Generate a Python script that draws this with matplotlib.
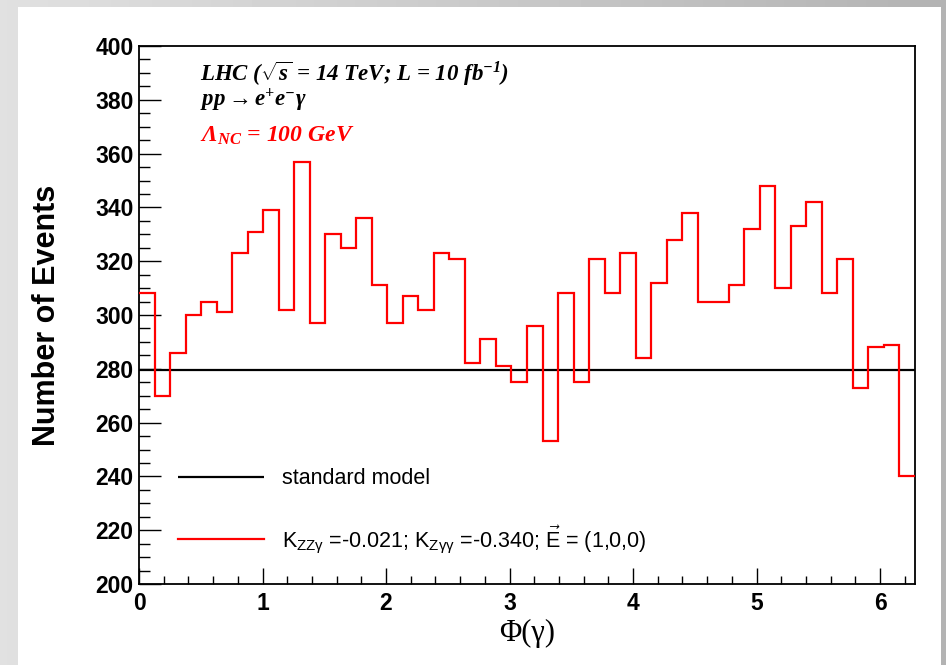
import numpy as np
import matplotlib
matplotlib.use('Agg')
import matplotlib.pyplot as plt
import matplotlib.ticker as ticker
from matplotlib.patches import Rectangle

plt.rcParams.update({
    'font.family': ['Liberation Sans', 'DejaVu Sans'],
    'mathtext.fontset': 'custom',
    'mathtext.rm': 'Liberation Serif:bold:italic',
    'mathtext.it': 'Liberation Serif:bold:italic',
    'mathtext.bf': 'Liberation Serif:bold:italic',
    'mathtext.sf': 'Liberation Sans',
})

# 50 bins over [0, 2pi]
N_BINS = 50
PHI_MAX = 2 * np.pi
events_nc = [308, 270, 286, 300, 305, 301, 323, 331, 339, 302,
             357, 297, 330, 325, 336, 311, 297, 307, 302, 323,
             321, 282, 291, 281, 275, 296, 253, 308, 275, 321,
             308, 323, 284, 312, 328, 338, 305, 305, 311, 332,
             348, 310, 333, 342, 308, 321, 273, 288, 289, 240]
sm_level = 279.4

label_sm = 'standard model'
label_nc = (r'K$_{\mathsf{ZZ\gamma}}$ =-0.021; K$_{\mathsf{Z\gamma\gamma}}$ =-0.340; '
            r'$\vec{\mathsf{E}}$ = (1,0,0)')

W, H = 946, 665
fig = plt.figure(figsize=(W / 100, H / 100), dpi=100)

# grey screenshot border with a white pad
bg = fig.add_axes([0, 0, 1, 1], zorder=-10)
grad = np.linspace(0.88, 0.70, 256)[None, :]
bg.imshow(grad, extent=[0, 1, 0, 1], aspect='auto', cmap='gray', vmin=0, vmax=1)
bg.add_patch(Rectangle((18 / W, 0), (941 - 18) / W, (H - 7) / H,
                       transform=bg.transAxes, facecolor='white', edgecolor='none'))
bg.set_xlim(0, 1)
bg.set_ylim(0, 1)
bg.axis('off')

L, R, T, B = 139, 915, 46, 584
ax = fig.add_axes([L / W, 1 - B / H, (R - L) / W, (B - T) / H])
ax.set_facecolor('white')

edges = np.linspace(0, PHI_MAX, N_BINS + 1)
ax.hlines(sm_level, 0, PHI_MAX, color='black', lw=1.6, label=label_sm, zorder=2)
ax.stairs(events_nc, edges, color='#ff0000', lw=1.6, baseline=None, label=label_nc, zorder=3)

ax.set_xlim(0, PHI_MAX)
ax.set_ylim(200, 400)

ax.xaxis.set_major_locator(ticker.MultipleLocator(1))
ax.xaxis.set_minor_locator(ticker.MultipleLocator(0.2))
ax.yaxis.set_major_locator(ticker.MultipleLocator(20))
ax.yaxis.set_minor_locator(ticker.MultipleLocator(5))
ax.tick_params(axis='both', which='both', direction='in', top=False, right=False,
               width=1.0, color='black')
ax.tick_params(axis='x', which='major', length=11.5, pad=6)
ax.tick_params(axis='x', which='minor', length=5.8)
ax.tick_params(axis='y', which='major', length=16, pad=4)
ax.tick_params(axis='y', which='minor', length=8)
for lab in ax.get_xticklabels() + ax.get_yticklabels():
    lab.set_fontsize(16.5)
    lab.set_fontweight('bold')
for sp in ax.spines.values():
    sp.set_linewidth(1.3)
    sp.set_color('black')

ax.set_ylabel('Number of Events', fontsize=22, fontweight='bold')
ax.yaxis.set_label_coords((62 - L) / (R - L), 0.5)
ax.set_xlabel('Φ(γ)', fontsize=22, family=['Liberation Serif', 'DejaVu Serif'])
ax.xaxis.set_label_coords(0.5, (B - 619) / (B - T))

serif = ['Liberation Serif', 'DejaVu Serif']
txt_kw = dict(transform=ax.transAxes, ha='left', va='baseline',
              family=serif, fontweight='bold', fontstyle='italic')
ax.text(0.0786, 0.935, r'LHC ($\sqrt{s}$ = 14 TeV; L = 10 fb$^{-1}$)', fontsize=16.5, **txt_kw)
ax.text(0.0786, 0.889, r'pp$\rightarrow$e$^{+}$e$^{-}$γ', fontsize=16.5, **txt_kw)
ax.text(0.0786, 0.822, r'Λ$_{NC}$ = 100 GeV', fontsize=17, color='#ff0000', **txt_kw)

ax.legend(loc='center left', bbox_to_anchor=(0.05, 0.1346), frameon=False,
          fontsize=15.5, handlelength=4.0, handletextpad=0.85, labelspacing=1.56,
          borderpad=0, borderaxespad=0)

fig.savefig('out.png', dpi=100)
